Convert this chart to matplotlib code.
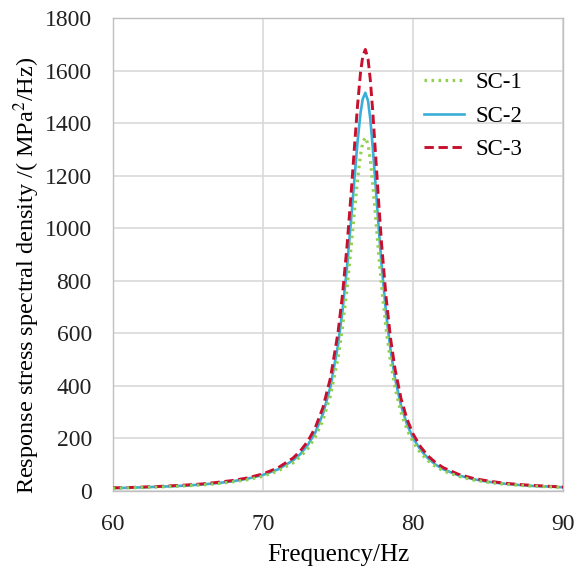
import matplotlib
matplotlib.use("Agg")
import matplotlib.pyplot as plt

freq = [60, 61, 62, 63, 64, 65, 66, 67, 68, 69, 70, 71, 72, 72.5, 73, 73.5, 74, 74.5, 75,
        75.3, 75.6, 75.9, 76.1, 76.3, 76.5, 76.65, 76.82, 77.0, 77.15, 77.3, 77.5, 77.7,
        77.9, 78.2, 78.5, 78.8, 79.2, 79.6, 80, 80.5, 81, 81.5, 82, 83, 84, 85, 86, 87,
        88, 89, 90]

sc1 = [9, 11, 12, 14, 16, 19, 22, 27, 34, 42, 55, 75, 106, 130, 161, 206, 269, 363, 505,
       623, 770, 944, 1068, 1185, 1280, 1327, 1346, 1320, 1261, 1178, 1046, 909,
       781, 617, 490, 392, 298, 232, 185, 143, 114, 92, 76, 55, 41, 32, 25, 21,
       17, 15, 12]

sc2 = [10, 11, 13, 15, 17, 20, 24, 29, 36, 46, 60, 81, 115, 140, 175, 223, 293, 396, 554,
       685, 851, 1050, 1192, 1328, 1439, 1493, 1516, 1485, 1416, 1318, 1166, 1008,
       862, 677, 535, 427, 324, 252, 200, 155, 123, 99, 82, 59, 44, 34, 27, 22,
       18, 16, 13]

sc3 = [11, 12, 14, 16, 19, 22, 26, 32, 39, 49, 64, 87, 124, 152, 189, 242, 317, 430, 602,
       747, 932, 1153, 1313, 1467, 1593, 1655, 1681, 1645, 1566, 1456, 1283, 1106,
       942, 738, 580, 463, 350, 272, 216, 167, 132, 107, 88, 63, 47, 37, 29, 24,
       20, 17, 14]

x_ticks = [60, 70, 80, 90]
y_ticks = [0, 200, 400, 600, 800, 1000, 1200, 1400, 1600, 1800]

plt.rcParams['font.family'] = ['Liberation Serif', 'DejaVu Serif']
plt.rcParams['mathtext.fontset'] = 'stix'

fig = plt.figure(figsize=(5.79, 5.75), dpi=100)
ax = fig.add_axes([0.1946, 0.1466, 0.7783, 0.8217])

l2, = ax.plot(freq, sc2, color='#3AAED8', lw=1.9, ls='-', label='SC-2', zorder=3)
l3, = ax.plot(freq, sc3, color='#C8102E', lw=2.1, ls=(0, (3.2, 1.6)), label='SC-3', zorder=4)
l1, = ax.plot(freq, sc1, color='#92D050', lw=2.3, ls=(0, (0.8, 1.4)), label='SC-1', zorder=5)

ax.set_xlim(60, 90)
ax.set_ylim(0, 1800)
ax.set_xticks(x_ticks)
ax.set_yticks(y_ticks)
ax.grid(True, color='#D9D9D9', lw=1.2)
ax.set_axisbelow(True)
for s in ax.spines.values():
    s.set_color('#BFBFBF')
    s.set_linewidth(1.0)
ax.tick_params(axis='both', length=0, labelsize=17, colors='#222222')
ax.tick_params(axis='y', pad=15)
ax.tick_params(axis='x', pad=17)

ax.set_xlabel('Frequency/Hz', fontsize=18, labelpad=6)
ax.set_ylabel('Response stress spectral density /( MPa$^{2}$/Hz)', fontsize=17.5)
ax.yaxis.set_label_coords(-0.157, 0.455)

leg = ax.legend(handles=[l1, l2, l3], loc='upper left', bbox_to_anchor=(0.645, 0.93),
                frameon=False, fontsize=16.5, handlelength=1.75, handletextpad=0.5,
                labelspacing=0.55)

fig.savefig('out.png', dpi=100)
